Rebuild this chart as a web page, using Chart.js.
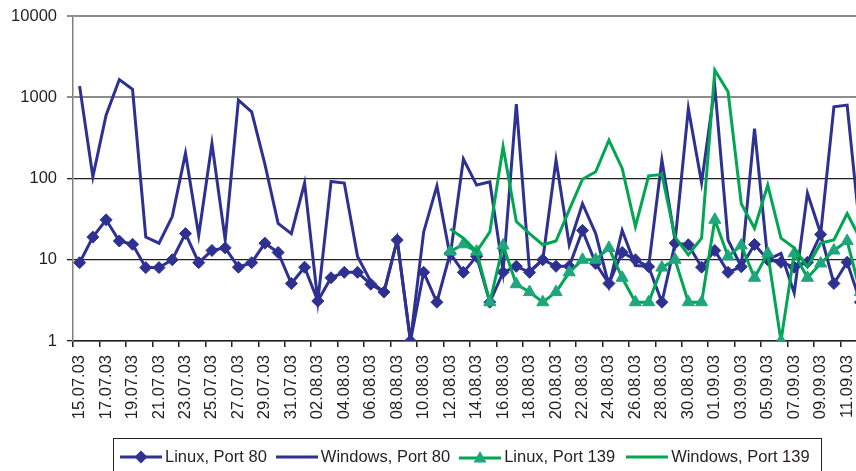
<!DOCTYPE html>
<html>
<head>
<meta charset="utf-8">
<script src="https://cdn.jsdelivr.net/npm/chart.js@4/dist/chart.umd.min.js"></script>
<style>
  html, body { margin: 0; padding: 0; background: #fff; overflow: hidden; }
  #wrap { position: relative; width: 856px; height: 471px; overflow: hidden; }
  #chartBox { position: absolute; left: 0; top: 0; width: 875px; height: 471px; }
  #legend {
    position: absolute; left: 113px; top: 438px; width: 707px; height: 31px;
    border: 1px solid #231f20; box-sizing: content-box;
    display: flex; align-items: center; padding-top: 2px;
    font-family: "Liberation Sans", Arial, sans-serif; font-size: 16.5px; color: #231f20;
  }
  .item { display: flex; align-items: center; white-space: nowrap; }
  .item svg { margin-right: 3px; }
</style>
</head>
<body>
<div id="wrap">
  <div id="chartBox"><canvas id="portChart" width="875" height="471"></canvas></div>
  <div id="legend">
    <div class="item" style="margin-left:6px">
      <svg width="42" height="14"><line x1="0" y1="7" x2="42" y2="7" stroke="#2e3192" stroke-width="3"/><polygon points="21,0.5 27.5,7 21,13.5 14.5,7" fill="#2e3192"/></svg>Linux, Port 80</div>
    <div class="item" style="margin-left:9px">
      <svg width="42" height="14"><line x1="0" y1="7" x2="42" y2="7" stroke="#2e3192" stroke-width="3"/></svg>Windows, Port 80</div>
    <div class="item" style="margin-left:9px">
      <svg width="42" height="14"><line x1="0" y1="8" x2="42" y2="8" stroke="#00a651" stroke-width="3"/><polygon points="21,1 27.5,12.5 14.5,12.5" fill="#1fa67e"/></svg>Linux, Port 139</div>
    <div class="item" style="margin-left:11px">
      <svg width="42" height="14"><line x1="0" y1="7" x2="42" y2="7" stroke="#00a651" stroke-width="3"/></svg>Windows, Port 139</div>
  </div>
</div>
<script>
const dates = [
  "15.07.03", "16.07.03", "17.07.03", "18.07.03", "19.07.03", "20.07.03", "21.07.03", "22.07.03", "23.07.03", "24.07.03",
  "25.07.03", "26.07.03", "27.07.03", "28.07.03", "29.07.03", "30.07.03", "31.07.03", "01.08.03", "02.08.03", "03.08.03",
  "04.08.03", "05.08.03", "06.08.03", "07.08.03", "08.08.03", "09.08.03", "10.08.03", "11.08.03", "12.08.03", "13.08.03",
  "14.08.03", "15.08.03", "16.08.03", "17.08.03", "18.08.03", "19.08.03", "20.08.03", "21.08.03", "22.08.03", "23.08.03",
  "24.08.03", "25.08.03", "26.08.03", "27.08.03", "28.08.03", "29.08.03", "30.08.03", "31.08.03", "01.09.03", "02.09.03",
  "03.09.03", "04.09.03", "05.09.03", "06.09.03", "07.09.03", "08.09.03", "09.09.03", "10.09.03", "11.09.03", "12.09.03"
];

const linuxPort80 = [
  9.2, 19, 31, 17, 15.5, 8, 8, 10, 21, 9.2,
  13, 14, 8.1, 9.2, 16, 12.3, 5.1, 8.1, 3.1, 6,
  7, 7, 5, 4, 17.5, 1, 7, 3, 12, 7,
  11, 3, 7, 8.3, 7, 10, 8.3, 8.3, 23, 9,
  5.1, 12.3, 10, 8.2, 3, 16, 15.3, 8.1, 13, 7,
  8.2, 15.4, 10, 9.3, 8.1, 9.3, 20.5, 5.1, 9.3, 3
];

const windowsPort80 = [
  1370, 105, 600, 1650, 1250, 19, 16, 34, 204, 20,
  270, 17.6, 920, 660, 150, 28, 21, 88, 3.1, 92,
  88, 11, 5.4, 4, 17.5, 1, 22, 81, 11, 174,
  83, 91, 7.2, 824, 7.2, 10, 169, 15.3, 49, 21,
  4.8, 23, 8.5, 8.3, 169, 17, 725, 89, 1343, 17.5,
  8.2, 412, 10, 12, 3.9, 66, 21, 764, 800, 20
];

const linuxPort139 = [
  null, null, null, null, null, null, null, null, null, null,
  null, null, null, null, null, null, null, null, null, null,
  null, null, null, null, null, null, null, null, 12.6, 15.5,
  12.6, 3, 15, 5, 4, 3, 4, 7, 10, 10,
  14, 6, 3, 3, 8, 10, 3, 3, 31, 11,
  15, 6, 12, 1, 12, 6, 9, 13, 17, 4
];

const windowsPort139 = [
  null, null, null, null, null, null, null, null, null, null,
  null, null, null, null, null, null, null, null, null, null,
  null, null, null, null, null, null, null, null, 24, 18.4,
  12.6, 22, 246, 29.5, 21, 15.3, 17, 41, 98, 121,
  297, 133, 25.6, 108, 112, 19, 11.5, 18.4, 2150, 1167,
  49, 24.4, 83, 18.4, 14, 8.2, 16, 17.5, 37, 18
];

const yTicks = [1, 10, 100, 1000, 10000];

const blue = "#2e3192";
const green = "#00a651";
const teal = "#1fa67e";
const ink = "#231f20";
const font = { family: "'Liberation Sans', Arial, sans-serif", size: 16.5 };

// keep the plot box where the reference has it, whatever the labels want
const noPad = s => { s.paddingLeft = 0; s.paddingRight = 0; s.paddingTop = 0; s.paddingBottom = 0; };

const ctx = document.getElementById("portChart").getContext("2d");
const chart = new Chart(ctx, {
  type: "line",
  data: {
    labels: dates,
    datasets: [
      {
        label: "Linux, Port 80",
        data: linuxPort80,
        borderColor: blue,
        backgroundColor: blue,
        borderWidth: 3,
        pointStyle: "rectRot",
        pointRadius: 6,
        pointBorderWidth: 1,
        order: 4
      },
      {
        label: "Windows, Port 80",
        data: windowsPort80,
        borderColor: blue,
        borderWidth: 3,
        pointRadius: 0,
        order: 3
      },
      {
        label: "Linux, Port 139",
        data: linuxPort139,
        borderColor: green,
        backgroundColor: teal,
        pointBorderColor: teal,
        borderWidth: 3,
        pointStyle: "triangle",
        pointRadius: 7,
        pointBorderWidth: 1,
        order: 2
      },
      {
        label: "Windows, Port 139",
        data: windowsPort139,
        borderColor: green,
        borderWidth: 3,
        pointRadius: 0,
        order: 1
      }
    ]
  },
  options: {
    responsive: false,
    animation: false,
    events: [],
    layout: { padding: { top: 16, right: 0, left: 0, bottom: 0 } },
    plugins: { legend: { display: false }, tooltip: { enabled: false } },
    scales: {
      x: {
        type: "category",
        offset: true,
        afterFit: s => { s.height = 130; noPad(s); },
        grid: {
          offset: true,
          drawOnChartArea: false,
          tickLength: 6,
          lineWidth: 1.5,
          color: c => c.index % 2 === 0 ? ink : "rgba(0,0,0,0)"
        },
        border: { color: ink, width: 1.5 },
        ticks: {
          autoSkip: false,
          maxRotation: 90,
          minRotation: 90,
          padding: 8,
          color: ink,
          font: font,
          callback: function (v, i) { return i % 2 === 0 ? this.getLabelForValue(v) : ""; }
        }
      },
      y: {
        type: "logarithmic",
        min: 1,
        max: 10000,
        afterFit: s => { s.width = 73; noPad(s); },
        afterBuildTicks: s => { s.ticks = yTicks.map(v => ({ value: v })); },
        grid: {
          tickLength: 6,
          color: c => (c.tick && c.tick.value >= 1000) ? "#8c8c8c" : ink,
          lineWidth: c => (c.tick && c.tick.value >= 1000) ? 2 : 1.3
        },
        border: { color: "#808080", width: 1.5 },
        ticks: {
          padding: 10,
          color: ink,
          font: font,
          callback: v => String(v)
        }
      }
    }
  }
});
</script>
</body>
</html>
